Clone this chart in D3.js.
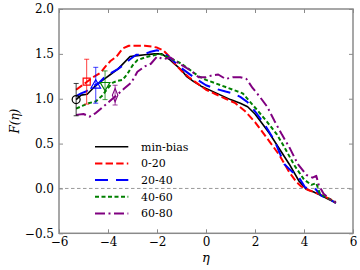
<!DOCTYPE html>
<html><head><meta charset="utf-8">
<script src="https://cdn.jsdelivr.net/npm/d3@7"></script>
<style>body{margin:0;background:#fff}svg{display:block}</style>
</head><body>
<svg id="c" width="360" height="270"></svg>
<script>
const xTicks = [-6,-4,-2,0,2,4,6];
const yTicks = [-0.5,0.0,0.5,1.0,1.5,2.0];
const seriesNames = ["min-bias","0-20","20-40","40-60","60-80"];
const minBias = [[-5.3,0.99],[-5.1,1.04],[-4.85,1.05],[-4.6,1.12],[-4.35,1.18],[-4.1,1.23],[-3.9,1.27],[-3.6,1.33],[-3.35,1.40],[-3.1,1.47],[-2.8,1.48],[-2.5,1.49],[-2.1,1.50],[-1.8,1.50],[-1.5,1.44],[-1.3,1.39],[-1.0,1.32],[-0.8,1.25],[-0.5,1.19],[-0.2,1.14],[0.2,1.09],[0.6,1.04],[1.0,0.99],[1.4,0.95],[1.7,0.91],[2.0,0.83],[2.3,0.72],[2.6,0.61],[3.0,0.44],[3.4,0.27],[3.8,0.08],[4.1,-0.01],[4.4,-0.04],[4.7,-0.08],[5.0,-0.12],[5.3,-0.16]];
const c0_20 = [[-5.3,1.10],[-5.05,1.15],[-4.8,1.20],[-4.55,1.25],[-4.3,1.29],[-4.1,1.36],[-3.9,1.42],[-3.65,1.47],[-3.4,1.56],[-3.15,1.59],[-2.8,1.59],[-2.5,1.59],[-2.2,1.58],[-2.0,1.57],[-1.75,1.54],[-1.5,1.47],[-1.3,1.40],[-1.0,1.31],[-0.7,1.24],[-0.4,1.18],[0,1.10],[0.4,1.05],[0.8,1.00],[1.2,0.95],[1.6,0.86],[2.0,0.74],[2.3,0.63],[2.6,0.52],[3.0,0.37],[3.4,0.18],[3.7,0.07],[3.9,0.02],[4.2,-0.02],[4.6,-0.06],[5.0,-0.11],[5.3,-0.15]];
const c20_40 = [[-5.3,1.03],[-5.1,1.06],[-4.9,1.08],[-4.6,1.14],[-4.35,1.18],[-4.1,1.25],[-3.85,1.29],[-3.6,1.33],[-3.35,1.38],[-3.1,1.44],[-2.85,1.49],[-2.6,1.49],[-2.3,1.52],[-2.0,1.54],[-1.75,1.52],[-1.5,1.46],[-1.25,1.40],[-1.0,1.34],[-0.7,1.28],[-0.4,1.22],[0,1.15],[0.4,1.11],[0.8,1.08],[1.1,1.06],[1.4,1.02],[1.7,0.96],[2.0,0.86],[2.4,0.71],[2.8,0.53],[3.2,0.27],[3.5,0.19],[3.75,0.14],[4.05,0.01],[4.45,0.0],[4.7,-0.08],[5.0,-0.12],[5.3,-0.16]];
const c40_60 = [[-5.3,0.89],[-5.05,0.92],[-4.8,0.95],[-4.5,0.97],[-4.25,1.03],[-4.0,1.12],[-3.8,1.18],[-3.6,1.20],[-3.4,1.21],[-3.2,1.28],[-3.0,1.37],[-2.8,1.43],[-2.5,1.46],[-2.2,1.48],[-1.9,1.50],[-1.6,1.47],[-1.3,1.43],[-1.0,1.39],[-0.6,1.31],[-0.3,1.25],[0,1.21],[0.4,1.17],[0.8,1.13],[1.2,1.09],[1.5,1.06],[1.75,0.98],[2.1,0.87],[2.5,0.74],[2.9,0.60],[3.2,0.46],[3.6,0.26],[4.0,0.10],[4.3,0.04],[4.5,0.06],[4.65,-0.06],[5.0,-0.11],[5.3,-0.16]];
const c60_80 = [[-5.3,0.82],[-5.0,0.83],[-4.75,0.80],[-4.5,0.84],[-4.2,0.91],[-3.9,0.98],[-3.6,1.05],[-3.35,1.11],[-3.05,1.18],[-2.8,1.30],[-2.5,1.36],[-2.25,1.39],[-2.0,1.47],[-1.75,1.44],[-1.45,1.46],[-1.2,1.41],[-0.9,1.36],[-0.6,1.31],[-0.3,1.24],[0,1.24],[0.25,1.26],[0.5,1.27],[0.8,1.22],[1.1,1.24],[1.4,1.24],[1.65,1.22],[1.9,1.12],[2.2,1.02],[2.5,0.91],[2.8,0.75],[3.1,0.60],[3.4,0.46],[3.75,0.27],[4.1,0.15],[4.35,0.12],[4.5,0.14],[4.6,0.04],[4.8,-0.06],[5.05,-0.12],[5.3,-0.16]];
// measured points: [eta, F, err]
const measX = [-5.3,-4.87,-4.5,-4.12,-3.71];
const measF = [0.99,1.19,1.15,1.15,1.04];
const measErr = [0.18,0.25,0.20,0.16,0.11];
const markerTypes = ["circle","square","triangle","triangleDown","diamond"];

const colors = ["#000000","#ff0000","#0000ff","#008000","#800080"];
const dashes = [null,"7.4,3.2","13,8","4,2.5","10,3.5,2,3.5"];
const widths = [1.6,2,2,2,2];
const allData = [minBias,c0_20,c20_40,c40_60,c60_80];

const svg = d3.select("#c");
const x = d3.scaleLinear().domain([-6,6]).range([59,353]);
const y = d3.scaleLinear().domain([-0.5,2.0]).range([233.3,9]);
const font = "'DejaVu Serif', serif";
const fmtY = d => d3.format(".1f")(d).replace("-","\u2212");
const fmtX = d => String(d).replace("-","\u2212");
const frameCol = "#8a8a8a";

// zero line
svg.append("line").attr("x1",x(-6)).attr("x2",x(6)).attr("y1",y(0)).attr("y2",y(0))
  .attr("stroke","#999").attr("stroke-width",1).attr("stroke-dasharray","3.5,2.5");

// series lines
const line = d3.line().x(d=>x(d[0])).y(d=>y(d[1]));
allData.forEach((data,i)=>{
  svg.append("path").datum(data).attr("d",line).attr("fill","none")
    .attr("stroke",colors[i]).attr("stroke-width",widths[i])
    .attr("stroke-dasharray",dashes[i]).attr("stroke-linejoin","round");
});

// error bars & markers
const symMap = {circle:d3.symbolCircle,square:d3.symbolSquare,triangle:d3.symbolTriangle,triangleDown:d3.symbolTriangle,diamond:d3.symbolDiamond};
const sizes = {circle:50,square:50,triangle:40,triangleDown:40,diamond:36};
measX.forEach((mx,i)=>{
  const g = svg.append("g").attr("stroke",colors[i]).attr("fill","none");
  const cx = x(mx), top = y(measF[i]+measErr[i]), bot = y(measF[i]-measErr[i]);
  g.append("line").attr("x1",cx).attr("x2",cx).attr("y1",top).attr("y2",bot).attr("stroke-width",1).attr("opacity",0.75);
  [top,bot].forEach(yy=>g.append("line").attr("x1",cx-2.5).attr("x2",cx+2.5).attr("y1",yy).attr("y2",yy).attr("stroke-width",1).attr("opacity",0.75));
  const t = markerTypes[i];
  g.append("path").attr("d",d3.symbol().type(symMap[t]).size(sizes[t])())
    .attr("transform",`translate(${cx},${y(measF[i])})`+(t==="triangleDown"?" rotate(180)":"")+(t==="diamond"?" scale(0.85,1.2)":""))
    .attr("stroke-width",1.2);
});

// axes with inward ticks
const ax = svg.append("g");
const styleAxis = g => { g.select(".domain").remove(); g.selectAll("line").attr("stroke",frameCol).attr("stroke-width",1);
  g.selectAll("text").attr("font-family",font).attr("font-size",12).attr("fill","#000"); };
ax.append("g").attr("transform",`translate(0,${y(-0.5)})`)
  .call(d3.axisBottom(x).tickValues(xTicks).tickFormat(fmtX).tickSizeInner(-4).tickPadding(4)).call(styleAxis);
ax.append("g").attr("transform",`translate(0,${y(2.0)})`)
  .call(d3.axisTop(x).tickValues(xTicks).tickFormat("").tickSizeInner(-4)).call(styleAxis);
ax.append("g").attr("transform",`translate(${x(-6)},0)`)
  .call(d3.axisLeft(y).tickValues(yTicks).tickFormat(fmtY).tickSizeInner(-4).tickPadding(5)).call(styleAxis);
ax.append("g").attr("transform",`translate(${x(6)},0)`)
  .call(d3.axisRight(y).tickValues(yTicks).tickFormat("").tickSizeInner(-4)).call(styleAxis);
svg.append("rect").attr("x",x(-6)).attr("y",y(2)).attr("width",x(6)-x(-6)).attr("height",y(-0.5)-y(2))
  .attr("fill","none").attr("stroke",frameCol).attr("stroke-width",1.5);

// axis labels
svg.append("text").attr("x",x(0)).attr("y",262).attr("text-anchor","middle")
  .attr("font-family",font).attr("font-size",13).attr("font-style","italic").text("η");
svg.append("text").attr("transform",`translate(19,${y(0.75)}) rotate(-90)`).attr("text-anchor","middle")
  .attr("font-family",font).attr("font-size",12).attr("font-style","italic").text("F(η)");

// legend
const leg = svg.append("g");
seriesNames.forEach((n,i)=>{
  const yy = 146.7 + i*16.7;
  leg.append("line").attr("x1",95).attr("x2",128.3).attr("y1",yy).attr("y2",yy)
    .attr("stroke",colors[i]).attr("stroke-width",widths[i]).attr("stroke-dasharray",dashes[i]);
  leg.append("text").attr("x",141).attr("y",yy).attr("dy","0.35em").attr("font-family",font)
    .attr("font-size",11).text(n);
});
</script>
</body></html>
